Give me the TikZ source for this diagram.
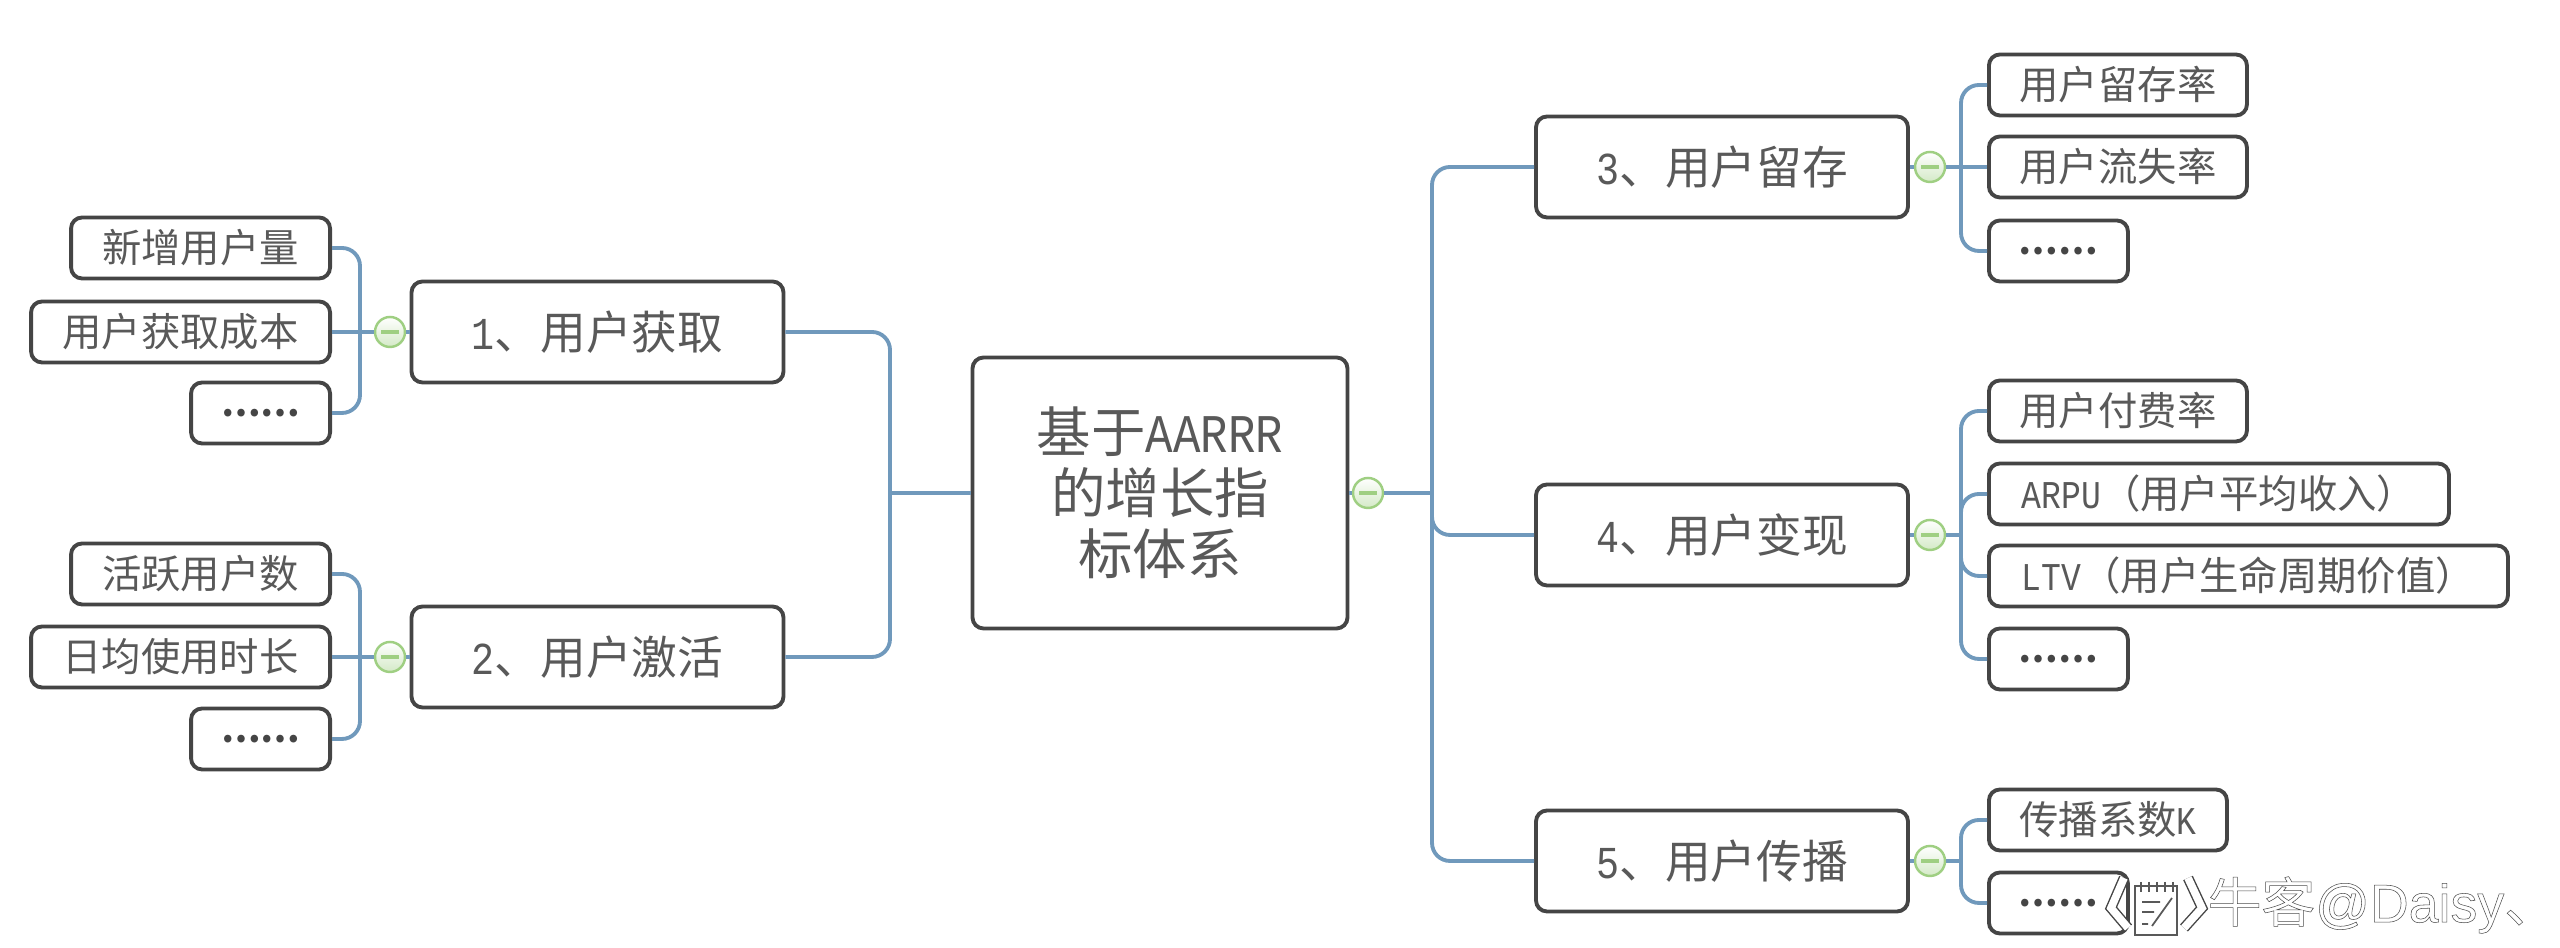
\documentclass[tikz,border=0pt]{standalone}
\usepackage{fontspec}
\setmainfont{Noto Sans CJK SC}
\newfontfamily\latinmono[FakeStretch=0.84]{Liberation Mono}
\newfontfamily\marksans{Liberation Sans}
\definecolor{linkblue}{HTML}{7099BC}
\definecolor{boxgray}{HTML}{454545}
\definecolor{textgray}{HTML}{595959}
\definecolor{collgreen}{HTML}{9FCF82}
\tikzset{
  topic/.style={draw=boxgray, line width=1.1pt, rounded corners=0.11cm, fill=white, text=textgray, inner sep=0pt, align=center},
  leaf/.style={topic, minimum height=0.61cm, font=\fontsize{11.2}{13}\selectfont},
  moreleaf/.style={leaf, minimum width=1.39cm, text=boxgray, font=\fontsize{10}{13}\selectfont\bfseries},
  mid/.style={topic, minimum width=3.72cm, minimum height=1.01cm, font=\fontsize{13}{15}\selectfont},
  link/.style={draw=linkblue, line width=1.1pt, rounded corners=0.18cm},
  coll/.style={circle, draw=collgreen, line width=0.7pt, minimum size=0.3cm, inner sep=0pt, top color=white, bottom color=collgreen!45,
    path picture={\draw[collgreen, line width=1pt] ([xshift=-0.09cm]path picture bounding box.center) -- ([xshift=0.09cm]path picture bounding box.center);}},
  mark line/.style={draw=textgray, line width=0.5pt},
}
\begin{document}
\begin{tikzpicture}
\useasboundingbox (0,0) rectangle (25.6,9.48);

% Centre
\node[topic, minimum width=3.75cm, minimum height=2.71cm, font=\fontsize{15.5}{17.4}\selectfont] (root) at (11.60,4.55) {基于{\latinmono AARRR}\\的增长指\\标体系};

% Main topics
\node[mid] (acquire) at (5.975,6.16) {{\latinmono 1}、用户获取};
\node[mid] (activate) at (5.975,2.91) {{\latinmono 2}、用户激活};
\node[mid] (retain) at (17.22,7.81) {{\latinmono 3}、用户留存};
\node[mid] (revenue) at (17.22,4.13) {{\latinmono 4}、用户变现};
\node[mid] (spread) at (17.22,0.87) {{\latinmono 5}、用户传播};

% Left leaves
\node[leaf, anchor=east, minimum width=2.59cm] (newuser) at (3.32,7.00) {新增用户量};
\node[leaf, anchor=east, minimum width=2.99cm] (cost) at (3.32,6.16) {用户获取成本};
\node[moreleaf, anchor=east] (moreone) at (3.32,5.35) {……};
\node[leaf, anchor=east, minimum width=2.59cm] (active) at (3.32,3.74) {活跃用户数};
\node[leaf, anchor=east, minimum width=2.99cm] (usetime) at (3.32,2.91) {日均使用时长};
\node[moreleaf, anchor=east] (moretwo) at (3.32,2.09) {……};

% Right leaves
\node[leaf, anchor=west, minimum width=2.58cm] (keep) at (19.87,8.63) {用户留存率};
\node[leaf, anchor=west, minimum width=2.58cm] (lost) at (19.87,7.81) {用户流失率};
\node[moreleaf, anchor=west] (morethree) at (19.87,6.97) {……};
\node[leaf, anchor=west, minimum width=2.58cm] (pay) at (19.87,5.37) {用户付费率};
\node[leaf, anchor=west, minimum width=4.60cm] (arpu) at (19.87,4.54) {{\latinmono ARPU}（用户平均收入）};
\node[leaf, anchor=west, minimum width=5.19cm] (ltv) at (19.87,3.72) {{\latinmono LTV}（用户生命周期价值）};
\node[moreleaf, anchor=west] (morefour) at (19.87,2.89) {……};
\node[leaf, anchor=west, minimum width=2.38cm] (factor) at (19.87,1.28) {传播系数{\latinmono K}};
\node[moreleaf, anchor=west] (morefive) at (19.87,0.45) {……};

% Collapse marks
\node[coll] (collroot) at (13.68,4.55) {};
\node[coll] (collone) at (3.90,6.16) {};
\node[coll] (colltwo) at (3.90,2.91) {};
\node[coll] (collthree) at (19.30,7.81) {};
\node[coll] (collfour) at (19.30,4.13) {};
\node[coll] (collfive) at (19.30,0.87) {};

% Junctions
\coordinate (jroot) at (14.32,4.55);
\coordinate (jleft) at (8.90,4.55);
\coordinate (jone) at (3.60,6.16);
\coordinate (jtwo) at (3.60,2.91);
\coordinate (jthree) at (19.61,7.81);
\coordinate (jfour) at (19.61,4.13);
\coordinate (jfive) at (19.61,0.87);

% Root links
\draw[link] (root.east) -- (collroot.west);
\draw[link] (collroot.east) -- (jroot);
\draw[link] (retain.west) -| (jroot);
\draw[link] (revenue.west) -| (jroot);
\draw[link] (spread.west) -| (jroot);
\draw[link] (acquire.east) -| (jleft);
\draw[link] (activate.east) -| (jleft);
\draw[link] (jleft) -- (root.west);

% Left links
\draw[link] (acquire.west) -- (collone.east);
\draw[link] (collone.west) -- (jone);
\draw[link] (newuser.east) -| (jone);
\draw[link] (cost.east) -- (jone);
\draw[link] (moreone.east) -| (jone);
\draw[link] (activate.west) -- (colltwo.east);
\draw[link] (colltwo.west) -- (jtwo);
\draw[link] (active.east) -| (jtwo);
\draw[link] (usetime.east) -- (jtwo);
\draw[link] (moretwo.east) -| (jtwo);

% Right links
\draw[link] (retain.east) -- (collthree.west);
\draw[link] (collthree.east) -- (jthree);
\draw[link] (keep.west) -| (jthree);
\draw[link] (lost.west) -- (jthree);
\draw[link] (morethree.west) -| (jthree);
\draw[link] (revenue.east) -- (collfour.west);
\draw[link] (collfour.east) -- (jfour);
\draw[link] (pay.west) -| (jfour);
\draw[link] (arpu.west) -| (jfour);
\draw[link] (ltv.west) -| (jfour);
\draw[link] (morefour.west) -| (jfour);
\draw[link] (spread.east) -- (collfive.west);
\draw[link] (collfive.east) -- (jfive);
\draw[link] (factor.west) -| (jfive);
\draw[link] (morefive.west) -| (jfive);

% Watermark
\draw[boxgray, line width=3pt] (21.24,0.70) -- (21.11,0.40) -- (21.28,0.20);
\draw[white, line width=2.2pt] (21.24,0.70) -- (21.11,0.40) -- (21.28,0.20);
\draw[boxgray, line width=3pt] (21.88,0.70) -- (22.02,0.40) -- (21.84,0.20);
\draw[white, line width=2.2pt] (21.88,0.70) -- (22.02,0.40) -- (21.84,0.20);
\draw[mark line, fill=white] (21.35,0.62) -- (21.77,0.62) -- (21.77,0.13) -- (21.35,0.13) -- cycle;
\foreach \x in {21.41,21.49,21.57,21.65,21.73}
  \draw[mark line] (\x,0.66) -- (\x,0.56);
\draw[mark line] (21.42,0.46) -- (21.60,0.46) (21.42,0.36) -- (21.54,0.36) (21.42,0.24) -- (21.48,0.24) (21.52,0.22) -- (21.72,0.50);
\node[anchor=west, inner sep=0pt, font=\fontsize{15.3}{19}\selectfont] (mark) at (22.07,0.43) {\special{pdf:code 2 Tr 0.15 w 0.3 0.3 0.3 RG 1 1 1 rg}牛客{\marksans @Daisy}、\special{pdf:code 0 Tr}};

\end{tikzpicture}
\end{document}
